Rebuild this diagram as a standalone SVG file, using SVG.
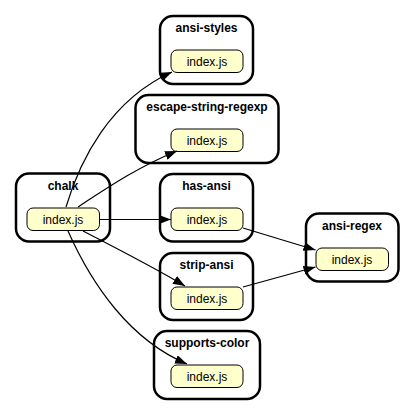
<svg xmlns="http://www.w3.org/2000/svg" width="415" height="415" viewBox="0 0 415 415">
<style>
.c{fill:#fff;stroke:#000;stroke-width:2.5}
.f{fill:#ffffcc;stroke:#000;stroke-width:1}
.t{font-family:"Liberation Sans",Arial,sans-serif;font-size:12px;font-weight:bold;text-anchor:middle;fill:#000}
.l{font-family:"Liberation Sans",Arial,sans-serif;font-size:12px;text-anchor:middle;fill:#000}
.e{fill:none;stroke:#000;stroke-width:1.2}
</style>
<defs>
<marker id="a" markerUnits="userSpaceOnUse" markerWidth="13" markerHeight="10" refX="12" refY="4.5" orient="auto">
<path d="M0,0 L12,4.5 L0,9 z" fill="#000"/>
</marker>
</defs>
<rect width="415" height="415" fill="#fff"/>
<g id="ansi-styles">
<rect class="c" x="160" y="16" width="93" height="68" rx="13"/>
<text class="t" x="206.5" y="32">ansi-styles</text>
<rect class="f" x="171" y="50" width="72" height="22.5" rx="6"/>
<text class="l" x="207" y="65.5">index.js</text>
</g>
<g id="escape-string-regexp">
<rect class="c" x="135.5" y="95" width="143" height="68" rx="13"/>
<text class="t" x="207" y="111">escape-string-regexp</text>
<rect class="f" x="171" y="129" width="72" height="22.5" rx="6"/>
<text class="l" x="207" y="144.5">index.js</text>
</g>
<g id="has-ansi">
<rect class="c" x="160" y="174" width="93" height="67.5" rx="13"/>
<text class="t" x="206.5" y="190">has-ansi</text>
<rect class="f" x="171" y="208" width="72" height="22.5" rx="6"/>
<text class="l" x="207" y="223.5">index.js</text>
</g>
<g id="strip-ansi">
<rect class="c" x="160" y="253" width="93" height="67" rx="13"/>
<text class="t" x="206.5" y="268.5">strip-ansi</text>
<rect class="f" x="171" y="287" width="72" height="22.5" rx="6"/>
<text class="l" x="207" y="302.5">index.js</text>
</g>
<g id="supports-color">
<rect class="c" x="154" y="331" width="106" height="68" rx="13"/>
<text class="t" x="207" y="347">supports-color</text>
<rect class="f" x="171" y="365" width="72" height="22.5" rx="6"/>
<text class="l" x="207" y="380.5">index.js</text>
</g>
<g id="ansi-regex">
<rect class="c" x="306" y="213.5" width="92.5" height="68" rx="13"/>
<text class="t" x="352" y="229.5">ansi-regex</text>
<rect class="f" x="316" y="248" width="72.5" height="22.5" rx="6"/>
<text class="l" x="352" y="263.5">index.js</text>
</g>
<g id="chalk">
<rect class="c" x="16" y="173.5" width="94" height="68" rx="13"/>
<text class="t" x="63" y="190">chalk</text>
<rect class="f" x="27" y="208" width="72.5" height="22.5" rx="6"/>
<text class="l" x="63" y="223.5">index.js</text>
</g>
<g id="edges">
<path class="e" marker-end="url(#a)" d="M66,207 C80,160 110,100 172,72"/>
<path class="e" marker-end="url(#a)" d="M78,207 C110,186 140,166 177,151"/>
<path class="e" marker-end="url(#a)" d="M99.5,219.5 L171,219.5"/>
<path class="e" marker-end="url(#a)" d="M83,231 C120,250 155,268 185,286"/>
<path class="e" marker-end="url(#a)" d="M68,231 C92,285 130,340 187,364"/>
<path class="e" marker-end="url(#a)" d="M243,228 L315.5,250"/>
<path class="e" marker-end="url(#a)" d="M243,287 L315.5,267"/>
</g>
</svg>
